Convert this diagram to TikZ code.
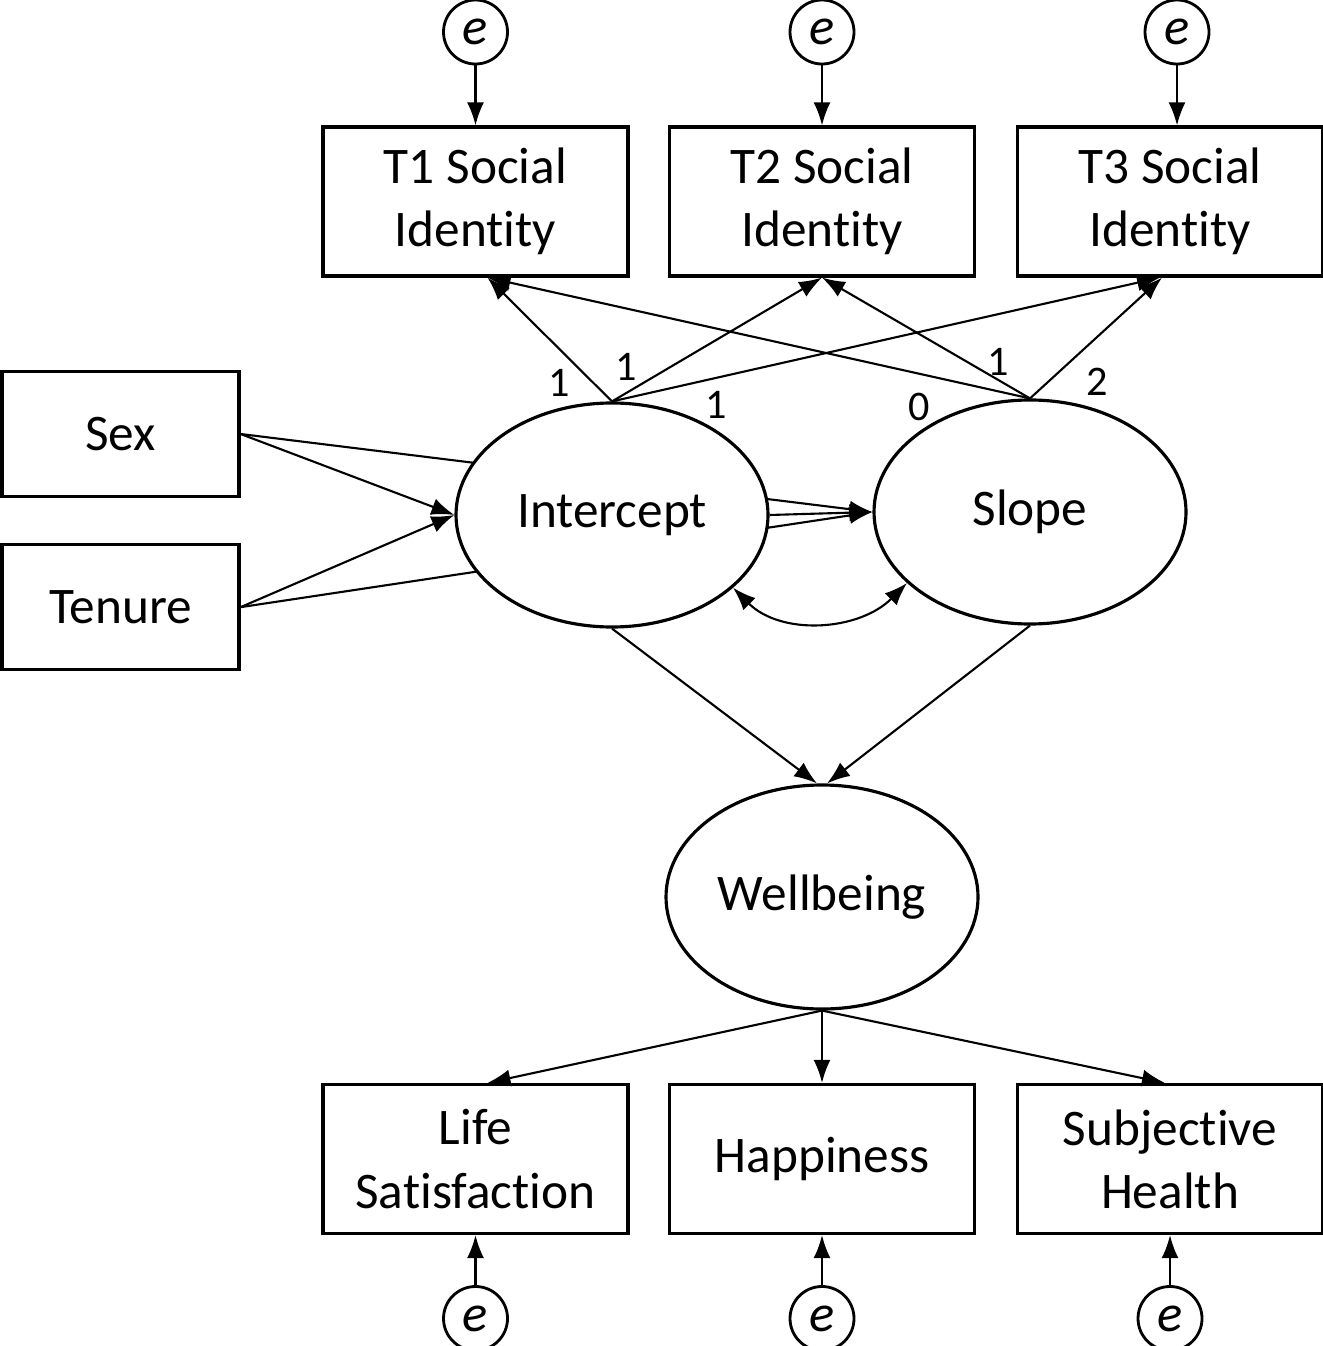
\documentclass[tikz,border=0pt]{standalone}
\usepackage{fontspec}
\setmainfont{Carlito}[Ligatures={NoCommon}]
\usetikzlibrary{positioning,shapes.geometric,arrows.meta,backgrounds}

\begin{document}
\begin{tikzpicture}[
			obs/.style={rectangle, draw=black, line width=0.9pt, fill=white, minimum width=3.05cm, minimum height=1.49cm, align=center, inner sep=0pt, font=\fontsize{14.6}{18}\selectfont},
			latent/.style={ellipse, draw=black, line width=0.9pt, fill=white, minimum width=3.12cm, minimum height=2.24cm, inner sep=0pt, font=\fontsize{14.6}{18}\selectfont},
			err/.style={circle, draw=black, line width=0.8pt, minimum size=0.64cm, inner sep=0pt, font=\fontsize{15}{15}\selectfont\itshape},
			arr/.style={-{Latex[length=2.3mm,width=1.7mm]}, line width=0.6pt},
			lbl/.style={inner sep=0pt, font=\fontsize{12}{12}\selectfont},
		]
			\useasboundingbox (0,0) rectangle (13.23,-13.46);

			% observed indicators of social identity
			\node[obs] (t1) at (4.755,-2.015) {T1 Social\\Identity};
			\node[obs] (t2) at (8.22,-2.015) {T2 Social\\Identity};
			\node[obs] (t3) at (11.70,-2.015) {T3 Social\\Identity};
			\node[err] (e1) [above=6mm of t1] {e};
			\node[err] (e2) [above=6mm of t2] {e};
			\node[err] (e3) [above=6mm of t3, xshift=0.7mm] {e};

			% covariates
			\node[obs, minimum width=2.37cm, minimum height=1.25cm] (sex) at (1.205,-4.34) {Sex};
			\node[obs, minimum width=2.37cm, minimum height=1.25cm] (tenure) [below=4.5mm of sex] {Tenure};

			% growth factors
			\node[latent] (intercept) at (6.12,-5.15) {Intercept};
			\node[latent] (slope) at (10.30,-5.12) {Slope};
			\node[latent] (wellbeing) at (8.22,-8.97) {Wellbeing};

			% wellbeing indicators
			\node[obs] (life) at (4.755,-11.59) {Life\\Satisfaction};
			\node[obs] (happy) at (8.22,-11.59) {Happiness};
			\node[obs] (health) at (11.70,-11.59) {Subjective\\Health};
			\node[err] (e4) [below=5mm of life] {e};
			\node[err] (e5) [below=5mm of happy] {e};
			\node[err] (e6) [below=5mm of health] {e};

			\draw[arr] (e1) -- (t1);
			\draw[arr] (e2) -- (t2);
			\draw[arr] (e3) -- (e3 |- t3.north);

			% loadings
			\draw[arr] (intercept.north) -- ([xshift=1.2mm]t1.south) node[lbl,pos=0.15,left=0.22cm] {1};
			\draw[arr] (intercept.north) -- (t2.south) node[lbl,pos=0.275,left=0.32cm] {1};
			\draw[arr] (intercept.north) -- ([xshift=-1mm]t3.south) node[lbl,pos=0.19,below=0.12cm] {1};
			\draw[arr] (slope.north) -- ([xshift=1.2mm]t1.south) node[lbl,pos=0.205,below=0.18cm] {0};
			\draw[arr] (slope.north) -- (t2.south) node[lbl,pos=0.305,right=0.2cm] {1};
			\draw[arr] (slope.north) -- ([xshift=-0.8mm]t3.south) node[lbl,pos=0.136,right=0.37cm] {2};

			% covariate paths (to slope pass behind intercept)
			\begin{scope}[on background layer]
				\draw[arr] (sex.east) -- (slope.west);
				\draw[arr] (tenure.east) -- (slope.west);
			\end{scope}
			\draw[arr] (sex.east) -- (intercept.west);
			\draw[arr] (tenure.east) -- (intercept.west);
			\draw[arr] (intercept.east) -- (slope.west);
			\draw[{Latex[length=2.3mm,width=1.7mm]}-{Latex[length=2.3mm,width=1.7mm]}, line width=0.6pt] (intercept.-31) to[out=-45,in=-135] (slope.-150);

			\draw[arr] (intercept.south) -- ([xshift=-0.5mm]wellbeing.north);
			\draw[arr] (slope.south) -- ([xshift=0.5mm]wellbeing.north);

			\draw[arr] (wellbeing.south) -- ([xshift=1.2mm]life.north);
			\draw[arr] (wellbeing.south) -- (happy.north);
			\draw[arr] (wellbeing.south) -- ([xshift=-0.5mm]health.north);
			\draw[arr] (e4) -- (life);
			\draw[arr] (e5) -- (happy);
			\draw[arr] (e6) -- (health);

		\end{tikzpicture}
\end{document}
